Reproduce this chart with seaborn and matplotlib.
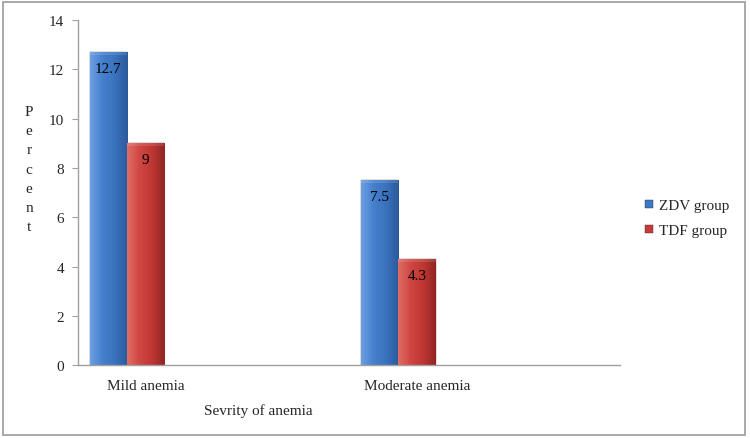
import matplotlib
matplotlib.use("Agg")
import matplotlib.pyplot as plt
from matplotlib.colors import LinearSegmentedColormap
from matplotlib.patches import Rectangle
from matplotlib.lines import Line2D
import seaborn as sns
import pandas as pd
import numpy as np

# data
categories = ["Mild anemia", "Moderate anemia"]
groups = ["ZDV group", "TDF group"]
zdv_values = [12.7, 7.5]
tdf_values = [9, 4.3]

# Excel-style axis: every category is followed by an empty slot, and a third empty series
cat_order = ["Mild anemia", " ", "Moderate anemia", "  "]
hue_order = ["ZDV group", "TDF group", "   "]

df = pd.DataFrame({
    "severity": categories * 2,
    "group": [groups[0]] * 2 + [groups[1]] * 2,
    "percent": zdv_values + tdf_values,
})

sns.set_style("white")
plt.rcParams["font.family"] = ["Liberation Serif", "DejaVu Serif"]

blue = "#3d78c6"
red = "#c63b37"
palette = {"ZDV group": blue, "TDF group": red, "   ": "white"}

fig = plt.figure(figsize=(7.5, 4.39), dpi=100)
ax = fig.add_axes([0.104, 0.166, 0.7227, 0.786])

sns.barplot(data=df, x="severity", y="percent", hue="group", order=cat_order,
            hue_order=hue_order, palette=palette, width=0.83, ax=ax,
            legend=False, saturation=1, errorbar=None)

# shaded look of the bars (light left edge, dark right edge)
cmaps = {
    blue: LinearSegmentedColormap.from_list("b", ["#6c9ee0", "#4580cd", "#3a72bd", "#2a5a9c"]),
    red: LinearSegmentedColormap.from_list("r", ["#e06c66", "#cf4642", "#bf3733", "#902623"]),
}
grad = np.linspace(0, 1, 64).reshape(1, -1)
for p in ax.patches:
    h = p.get_height()
    if not h or np.isnan(h) or h <= 0:
        continue
    fc = matplotlib.colors.to_hex(p.get_facecolor())
    cm = cmaps.get(fc)
    if cm is None:
        continue
    x0 = p.get_x()
    w = p.get_width()
    im = ax.imshow(grad, cmap=cm, aspect="auto", extent=(x0, x0 + w, 0, h),
                   zorder=p.get_zorder() + 0.1)
    im.set_clip_path(p)
    # thin top bevel
    ax.fill_between([x0, x0 + w], h - 0.1, h, color="white", alpha=0.12,
                    zorder=p.get_zorder() + 0.2, linewidth=0)
    ax.annotate(f"{h:g}", (x0 + w / 2, h), xytext=(0, -7), textcoords="offset points",
                ha="center", va="top", fontsize=11, color="black", zorder=5)
    p.set_edgecolor("#5a5a5a")
    p.set_linewidth(0.3)

ax.set_xlim(-0.5, 3.5)
ax.set_ylim(0, 14)
ax.set_yticks(np.arange(0, 15, 2))

# tick labels
ax.set_xticks(range(len(cat_order)))
ax.set_xticklabels([c if c.strip() else "" for c in cat_order], fontsize=11)
ax.tick_params(axis="x", length=0, pad=10)
ax.tick_params(axis="y", length=4, width=0.8, color="#a0a0a0", direction="out",
               labelsize=11, pad=6, left=True)

for s in ["top", "right"]:
    ax.spines[s].set_visible(False)
for s in ["left", "bottom"]:
    ax.spines[s].set_color("#a0a0a0")
    ax.spines[s].set_linewidth(1)

ax.set_xlabel("")
ax.set_ylabel("")
fig.text(258 / 750, 1 - 411 / 439, "Sevrity of anemia", ha="center", va="center", fontsize=11)
fig.text(29 / 750, 1 - 170 / 439, "P\ne\nr\nc\ne\nn\nt", ha="center", va="center",
         fontsize=11, linespacing=1.62)

handles = [Line2D([], [], marker="s", linestyle="none", markersize=6,
                  markerfacecolor=c, markeredgecolor="#333333", markeredgewidth=0.3)
           for c in [blue, red]]
fig.legend(handles, groups, loc="center left", bbox_to_anchor=(628 / 750, 1 - 219 / 439),
           frameon=False, fontsize=11, handletextpad=0.1, labelspacing=0.75,
           handlelength=1.0)

fig.patches.append(Rectangle((3 / 750, 3 / 439), 742 / 750, 433 / 439, transform=fig.transFigure,
                             fill=False, edgecolor="#9a9a9a", linewidth=1.2))

fig.savefig("out.png", dpi=100)
